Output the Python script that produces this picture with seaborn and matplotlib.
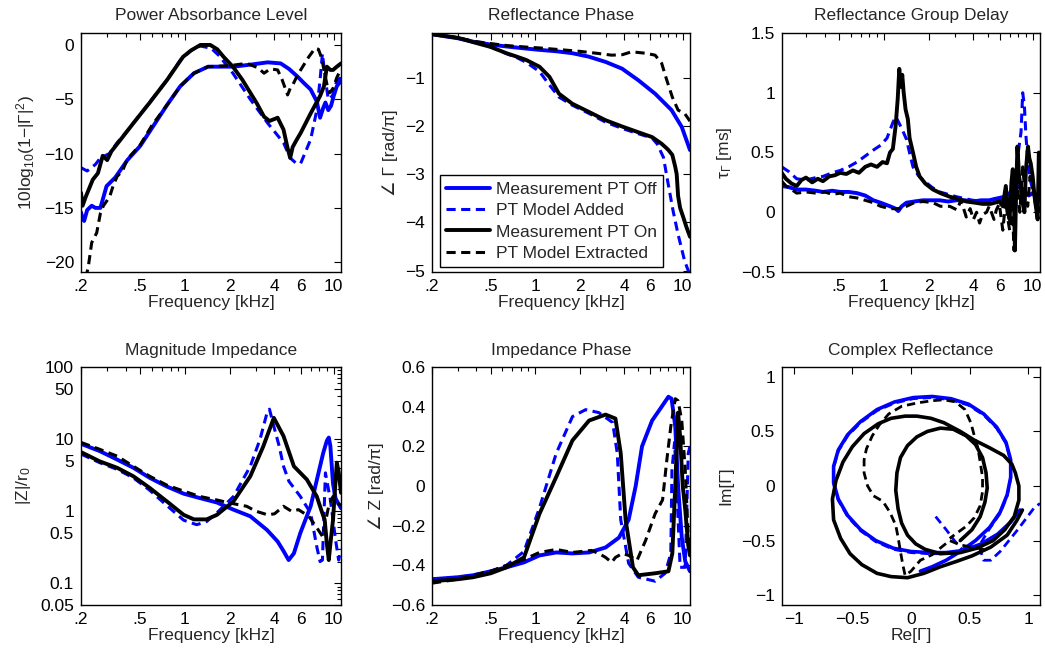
import matplotlib
matplotlib.use("Agg")
import matplotlib.pyplot as plt
import seaborn as sns
from matplotlib.ticker import FixedLocator, NullFormatter

# ---- Power absorbance level [dB] ----
pal_off_f = [0.2, 0.205, 0.21, 0.22, 0.236, 0.25, 0.27, 0.297, 0.34, 0.41, 0.5, 0.61, 0.76, 0.93, 1.15,
             1.43, 1.8, 2.12, 2.8, 3.6, 4.4, 5.0, 5.7, 6.3, 7.0, 7.7, 8.1, 8.5, 8.8, 9.2, 9.6, 10.0, 10.5, 11.2]
pal_off_y = [-15.4, -16.0, -16.2, -15.2, -14.8, -15.0, -15.0, -13.0, -12.2, -10.6, -9.3, -7.5, -5.5, -3.8, -2.6,
             -2.0, -2.0, -2.0, -1.8, -1.6, -1.7, -2.2, -2.9, -3.5, -4.1, -5.2, -6.7, -5.8, -5.3, -6.0, -5.6, -4.7, -3.8, -3.3]
pal_add_f = [0.2, 0.22, 0.25, 0.27, 0.29, 0.31, 0.35, 0.41, 0.5, 0.6, 0.76, 0.93, 1.1, 1.27, 1.5, 1.7, 2.1,
             2.75, 3.6, 4.6, 5.1, 5.6, 6.0, 7.0, 7.7, 8.1, 8.4, 8.8, 9.2, 9.8, 10.5, 11.2]
pal_add_y = [-11.3, -11.6, -11.0, -10.4, -10.2, -10.0, -9.0, -7.9, -6.4, -5.0, -3.2, -1.4, -0.5, -0.1, -0.3, -1.0, -2.6,
             -5.0, -7.2, -9.0, -10.4, -10.9, -10.9, -8.7, -6.0, -3.2, -0.8, -3.2, -5.0, -4.7, -3.3, -3.0]
pal_on_f = [0.2, 0.205, 0.215, 0.24, 0.26, 0.28, 0.3, 0.32, 0.37, 0.45, 0.58, 0.76, 0.97, 1.1, 1.27, 1.48, 1.65,
            1.82, 2.1, 2.43, 3.05, 3.4, 3.7, 4.2, 4.6, 4.9, 5.1, 5.3, 5.6, 6.0, 7.0, 8.1, 8.6, 9.0, 9.5, 9.9, 10.5, 11.2]
pal_on_y = [-13.6, -14.8, -14.0, -12.4, -11.8, -10.2, -10.6, -9.8, -8.7, -7.2, -5.3, -3.2, -1.1, -0.5, 0.0, 0.0, -0.4,
            -1.1, -2.0, -3.2, -5.4, -6.6, -7.0, -6.7, -7.8, -9.5, -10.4, -9.4, -8.8, -8.1, -6.3, -4.7, -3.8, -2.0, -2.3, -2.3, -2.0, -1.7]
pal_ext_f = [0.215, 0.224, 0.236, 0.255, 0.27, 0.283, 0.3, 0.313, 0.33, 0.35, 0.38, 0.41, 0.5, 0.6, 0.76, 0.93,
             1.15, 1.43, 2.0, 2.6, 3.1, 3.4, 3.75, 4.2, 4.5, 4.9, 5.1, 5.3, 5.7, 6.0, 6.8, 7.5, 7.9, 8.3, 8.6, 9.0,
             9.4, 9.9, 10.5, 11.2]
pal_ext_y = [-21.5, -20.4, -18.2, -17.3, -15.5, -14.8, -14.3, -13.9, -12.9, -12.1, -11.6, -10.5, -9.2, -7.4, -5.5, -3.8,
             -2.6, -2.0, -1.9, -1.7, -2.1, -2.6, -2.2, -2.3, -3.2, -4.6, -4.0, -3.7, -2.8, -2.3, -1.1, -0.3, -0.4, -1.2, -2.3, -3.6,
             -4.4, -4.0, -3.0, -2.2]

# ---- Reflectance phase [rad/pi] ----
rp_off_f = [0.2, 0.3, 0.38, 0.5, 0.64, 0.85, 1.07, 1.4, 1.79, 2.3, 3.0, 3.88, 5.0, 6.5, 8.4, 9.85, 11.2]
rp_off_y = [-0.095, -0.18, -0.25, -0.31, -0.35, -0.39, -0.42, -0.45, -0.49, -0.56, -0.67, -0.81, -1.05, -1.33, -1.67, -2.02, -2.5]
rp_add_f = [0.2, 0.3, 0.38, 0.5, 0.64, 0.75, 0.87, 1.07, 1.25, 1.45, 1.79, 2.32, 3.0, 3.88, 5.0, 6.2, 6.7, 7.4,
            7.9, 8.6, 9.3, 10.3, 11.2]
rp_add_y = [-0.095, -0.17, -0.25, -0.36, -0.5, -0.58, -0.68, -0.87, -1.15, -1.40, -1.57, -1.74, -1.92, -2.05, -2.16,
            -2.25, -2.37, -2.65, -3.14, -3.76, -4.25, -4.8, -5.1]
rp_on_f = [0.2, 0.3, 0.38, 0.5, 0.64, 0.75, 0.87, 1.07, 1.25, 1.45, 1.79, 2.32, 3.0, 3.88, 5.0, 6.2, 7.2, 7.7, 8.0,
           8.5, 8.9, 9.1, 9.3, 9.6, 10.1, 10.6, 11.2]
rp_on_y = [-0.095, -0.17, -0.26, -0.36, -0.49, -0.56, -0.63, -0.77, -0.98, -1.33, -1.54, -1.71, -1.88, -2.01, -2.13,
           -2.23, -2.37, -2.45, -2.5, -2.6, -2.85, -3.0, -3.45, -3.7, -3.9, -4.1, -4.3]
rp_ext_f = [0.2, 0.3, 0.38, 0.5, 0.64, 0.85, 1.07, 1.4, 2.0, 2.6, 3.3, 3.9, 4.5, 5.6, 6.5, 7.2, 7.8, 8.5, 9.3, 10.3, 11.2]
rp_ext_y = [-0.095, -0.17, -0.24, -0.29, -0.33, -0.36, -0.38, -0.41, -0.45, -0.49, -0.53, -0.52, -0.46, -0.49, -0.53,
            -0.7, -1.05, -1.4, -1.67, -1.74, -1.9]

# ---- Reflectance group delay [ms] ----
gd_off_f = [0.206, 0.23, 0.26, 0.3, 0.35, 0.39, 0.45, 0.51, 0.58, 0.66, 0.75, 0.85, 0.95, 1.1, 1.2, 1.25, 1.32, 1.42,
            1.6, 1.83, 2.1, 2.37, 2.7, 3.07, 3.5, 3.96, 4.5, 5.1, 5.5, 5.98, 6.5, 7.0, 7.6, 8.2, 8.8, 9.4, 10.0, 10.6, 11.2]
gd_off_y = [0.22, 0.21, 0.19, 0.19, 0.18, 0.17, 0.18, 0.17, 0.17, 0.16, 0.14, 0.10, 0.08, 0.05, 0.03, 0.01, 0.05, 0.08,
            0.09, 0.10, 0.10, 0.10, 0.09, 0.10, 0.10, 0.09, 0.10, 0.10, 0.11, 0.12, 0.13, 0.16, 0.20, 0.22, 0.18, 0.14, 0.16, 0.12, 0.10]
gd_add_f = [0.206, 0.23, 0.26, 0.3, 0.35, 0.39, 0.45, 0.51, 0.58, 0.66, 0.75, 0.85, 0.95, 1.05, 1.15, 1.2, 1.25, 1.32,
            1.42, 1.5, 1.57, 1.7, 1.83, 2.1, 2.37, 3.07, 3.96, 5.1, 6.0, 6.6, 7.2, 7.7, 8.0, 8.35, 8.57, 8.8, 9.0, 9.26,
            9.6, 10.0, 10.5, 11.2]
gd_add_y = [0.38, 0.34, 0.28, 0.27, 0.29, 0.30, 0.33, 0.35, 0.38, 0.42, 0.47, 0.52, 0.56, 0.62, 0.75, 0.80, 0.76, 0.70,
            0.61, 0.48, 0.38, 0.31, 0.27, 0.21, 0.17, 0.13, 0.10, 0.09, 0.10, 0.12, 0.17, 0.33, 0.50, 0.67, 1.0, 0.89, 0.65, 0.44,
            0.28, 0.19, 0.13, 0.08]
gd_on_f = [0.206, 0.22, 0.24, 0.26, 0.28, 0.3, 0.33, 0.36, 0.39, 0.43, 0.47, 0.51, 0.56, 0.62, 0.68, 0.75, 0.82, 0.9,
           0.98, 1.05, 1.1, 1.15, 1.2, 1.24, 1.27, 1.3, 1.33, 1.36, 1.4, 1.45, 1.49, 1.57, 1.65, 1.74, 1.9, 2.14, 2.4, 2.77,
           3.2, 3.58, 4.1, 4.6, 5.2, 5.97, 6.3, 6.6, 6.8, 7.0, 7.2, 7.35, 7.5, 7.6, 7.75, 7.9, 8.1, 8.3, 8.5, 8.8, 9.0,
           9.3, 9.5, 9.7, 10.0, 10.3, 10.5, 10.8, 11.0, 11.2]
gd_on_y = [0.33, 0.28, 0.24, 0.22, 0.27, 0.29, 0.25, 0.28, 0.26, 0.30, 0.31, 0.33, 0.32, 0.35, 0.33, 0.38, 0.40, 0.38,
           0.42, 0.41, 0.50, 0.53, 0.72, 0.95, 1.20, 1.05, 1.15, 1.0, 0.86, 0.78, 0.62, 0.50, 0.38, 0.30, 0.24, 0.19, 0.16, 0.13,
           0.11, 0.09, 0.08, 0.07, 0.07, 0.09, 0.05, 0.22, 0.02, -0.06, 0.25, 0.36, 0.05, -0.32, 0.20, 0.55, 0.30, 0.22, 0.10, 0.0,
           0.35, 0.55, 0.45, 0.41, 0.30, 0.13, 0.05, -0.06, 0.5, 0.35]
gd_ext_f = [0.206, 0.22, 0.24, 0.26, 0.3, 0.35, 0.4, 0.45, 0.51, 0.58, 0.66, 0.75, 0.85, 0.95, 1.1, 1.25, 1.42, 1.6,
            1.83, 2.14, 2.4, 2.77, 3.1, 3.3, 3.58, 3.8, 4.0, 4.2, 4.4, 4.6, 4.9, 5.1, 5.5, 5.7, 5.97, 6.3, 6.6, 6.8, 7.0,
            7.3, 7.5, 7.7, 7.9, 8.2, 8.57, 8.9, 9.26, 9.6, 10.0, 10.4, 10.8, 11.2]
gd_ext_y = [0.26, 0.22, 0.19, 0.16, 0.17, 0.16, 0.17, 0.15, 0.16, 0.13, 0.12, 0.10, 0.08, 0.05, 0.03, 0.03, 0.05, 0.08,
            0.09, 0.08, 0.05, 0.05, 0.02, 0.10, -0.04, 0.03, -0.06, 0.0, -0.09, -0.02, 0.0, 0.05, -0.06, 0.02, 0.07, -0.15,
            0.10, -0.05, -0.15, 0.05, -0.32, 0.10, 0.22, 0.0, 0.38, 0.15, 0.05, 0.30, 0.22, 0.08, -0.01, 0.05]

# ---- Magnitude impedance |Z|/r0 ----
zm_off_f = [0.2, 0.268, 0.35, 0.45, 0.58, 0.755, 0.98, 1.26, 1.64, 2.12, 2.75, 3.56, 4.2, 4.6, 4.98, 5.4, 5.97, 7.0,
            7.7, 8.5, 9.0, 9.27, 9.5, 9.9, 10.3, 11.2]
zm_off_y = [8.6, 6.8, 5.2, 4.0, 2.9, 2.2, 1.75, 1.52, 1.32, 1.05, 0.85, 0.55, 0.38, 0.28, 0.21, 0.26, 0.5, 1.17,
            2.7, 6.4, 9.5, 10.5, 8.0, 2.4, 1.5, 1.1]
zm_add_f = [0.2, 0.268, 0.35, 0.45, 0.58, 0.755, 0.98, 1.2, 1.4, 1.64, 2.12, 2.75, 3.2, 3.56, 3.7, 3.96, 4.3, 4.6,
            5.0, 5.97, 7.0, 7.7, 8.1, 8.4, 8.8, 9.5, 10.3, 10.8, 11.2]
zm_add_y = [6.2, 4.7, 3.8, 2.9, 1.95, 1.2, 0.75, 0.65, 0.72, 0.95, 1.6, 4.2, 10.0, 23.0, 26.0, 15.0, 8.0, 4.2,
            2.6, 1.6, 0.94, 0.32, 0.2, 0.21, 3.4, 1.44, 0.4, 0.21, 0.3]
zm_on_f = [0.2, 0.268, 0.35, 0.45, 0.58, 0.755, 0.98, 1.15, 1.4, 1.64, 2.12, 2.75, 3.36, 3.96, 4.6, 5.4, 6.6, 7.7,
           8.3, 8.7, 9.0, 9.27, 9.5, 9.9, 10.2, 10.5, 10.8, 11.2]
zm_on_y = [6.6, 4.9, 4.0, 3.05, 2.1, 1.37, 0.89, 0.77, 0.77, 0.89, 1.37, 3.05, 7.9, 19.7, 11.0, 4.2, 2.75, 1.6,
           1.0, 0.76, 0.35, 0.21, 0.35, 0.76, 2.0, 4.7, 3.5, 1.8]
zm_ext_f = [0.2, 0.268, 0.35, 0.45, 0.58, 0.755, 0.98, 1.26, 1.64, 2.0, 2.6, 3.0, 3.6, 4.0, 4.6, 5.2, 5.8, 6.8,
            7.7, 8.4, 8.8, 9.25, 9.9, 10.5, 11.2]
zm_ext_y = [9.0, 7.2, 5.8, 4.2, 3.05, 2.3, 1.9, 1.6, 1.43, 1.3, 1.17, 1.0, 0.89, 0.92, 1.17, 1.0, 1.05, 0.85,
            0.59, 0.45, 0.7, 1.17, 1.6, 1.3, 1.2]

# ---- Impedance phase [rad/pi] ----
zp_off_f = [0.2, 0.3, 0.38, 0.5, 0.64, 0.84, 1.07, 1.39, 1.79, 2.32, 3.0, 3.7, 4.3, 4.8, 5.3, 6.2, 7.2, 8.0, 8.4,
            8.9, 9.3, 9.85, 10.4, 11.2]
zp_off_y = [-0.47, -0.46, -0.45, -0.43, -0.41, -0.385, -0.35, -0.335, -0.34, -0.335, -0.31, -0.26, -0.17, 0.0, 0.2,
            0.33, 0.40, 0.45, 0.44, 0.30, 0.0, -0.26, -0.38, -0.43]
zp_add_f = [0.2, 0.3, 0.38, 0.5, 0.64, 0.84, 1.07, 1.39, 1.79, 2.2, 2.7, 3.35, 3.6, 3.8, 4.3, 5.0, 6.5, 7.6, 8.3,
            8.45, 8.8, 9.1, 9.6, 10.4, 10.9, 11.2]
zp_add_y = [-0.47, -0.46, -0.45, -0.43, -0.40, -0.33, -0.11, 0.165, 0.35, 0.385, 0.37, 0.32, 0.165, -0.17, -0.39,
            -0.46, -0.48, -0.44, -0.34, 0.08, 0.22, 0.0, -0.41, -0.41, 0.165, 0.2]
zp_on_f = [0.2, 0.3, 0.38, 0.5, 0.64, 0.84, 1.07, 1.39, 1.79, 2.32, 3.0, 3.5, 3.8, 4.1, 4.6, 5.0, 6.5, 8.0, 8.5,
           8.9, 9.3, 9.6, 10.0, 10.4, 10.9, 11.2]
zp_on_y = [-0.48, -0.47, -0.46, -0.44, -0.41, -0.36, -0.14, 0.046, 0.23, 0.33, 0.36, 0.34, 0.165, -0.17, -0.41,
           -0.45, -0.44, -0.43, -0.34, 0.0, 0.37, 0.25, 0.0, -0.12, -0.3, -0.35]
zp_ext_f = [0.2, 0.3, 0.38, 0.5, 0.64, 0.84, 1.07, 1.39, 1.79, 2.4, 2.7, 3.0, 3.3, 3.5, 3.9, 4.3, 4.9, 5.6, 6.5,
            7.3, 7.8, 8.3, 8.9, 9.3, 9.85, 10.4, 10.9, 11.2]
zp_ext_y = [-0.49, -0.47, -0.45, -0.43, -0.40, -0.37, -0.335, -0.32, -0.335, -0.325, -0.34, -0.36, -0.385, -0.36,
            -0.34, -0.35, -0.375, -0.275, -0.14, -0.07, 0.13, 0.30, 0.44, 0.43, 0.33, 0.08, -0.26, -0.3]

# ---- Complex reflectance (Re, Im) ----
cr_off_re = [0.93, 0.85, 0.74, 0.60, 0.45, 0.30, 0.15, 0.0, -0.15, -0.30, -0.43, -0.54, -0.62, -0.66, -0.66, -0.62,
             -0.54, -0.43, -0.29, -0.14, 0.02, 0.18, 0.34, 0.49, 0.62, 0.73, 0.81, 0.85, 0.85, 0.82, 0.76, 0.67,
             0.55, 0.42, 0.30, 0.18, 0.08]
cr_off_im = [-0.22, -0.33, -0.44, -0.53, -0.59, -0.61, -0.61, -0.60, -0.57, -0.50, -0.40, -0.27, -0.12, 0.03, 0.18,
             0.33, 0.47, 0.59, 0.70, 0.77, 0.81, 0.82, 0.80, 0.75, 0.66, 0.54, 0.40, 0.24, 0.08, -0.08, -0.24, -0.38,
             -0.50, -0.60, -0.68, -0.74, -0.78]
cr_add_re = [0.21, 0.30, 0.37, 0.45, 0.30, 0.15, 0.0, -0.15, -0.30, -0.43, -0.54, -0.62, -0.66, -0.66, -0.62,
             -0.54, -0.43, -0.29, -0.14, 0.02, 0.18, 0.34, 0.49, 0.62, 0.73, 0.81, 0.85, 0.85, 0.82, 0.76, 0.67,
             0.58, 0.62, 0.68, 0.76, 0.91, 1.05, 1.10]
cr_add_im = [-0.28, -0.40, -0.50, -0.60, -0.62, -0.62, -0.61, -0.58, -0.51, -0.41, -0.28, -0.13, 0.02, 0.17, 0.32,
             0.46, 0.58, 0.69, 0.76, 0.80, 0.81, 0.79, 0.74, 0.65, 0.53, 0.39, 0.23, 0.07, -0.09, -0.25, -0.39,
             -0.55, -0.68, -0.68, -0.60, -0.40, -0.20, -0.16]
cr_on_re = [0.95, 0.90, 0.82, 0.68, 0.52, 0.39, 0.25, 0.11, -0.03, -0.17, -0.29, -0.42, -0.52, -0.60, -0.66, -0.67,
            -0.64, -0.58, -0.50, -0.40, -0.28, -0.17, -0.05, 0.05, 0.17, 0.28, 0.42, 0.54, 0.67, 0.79, 0.86, 0.89,
            0.92, 0.92, 0.88, 0.80, 0.70, 0.56, 0.42, 0.25, 0.12, 0.04, -0.03, -0.08, -0.11, -0.13, -0.12, -0.09,
            -0.03, 0.05, 0.14, 0.25, 0.36, 0.47, 0.55, 0.61, 0.64, 0.65, 0.63, 0.59, 0.52, 0.42]
cr_on_im = [-0.22, -0.32, -0.45, -0.56, -0.64, -0.69, -0.74, -0.80, -0.84, -0.83, -0.80, -0.72, -0.62, -0.48, -0.31,
            -0.12, 0.05, 0.22, 0.36, 0.48, 0.57, 0.62, 0.64, 0.64, 0.62, 0.58, 0.50, 0.42, 0.35, 0.28, 0.20, 0.12,
            0.0, -0.13, -0.28, -0.40, -0.50, -0.57, -0.61, -0.62, -0.58, -0.53, -0.45, -0.34, -0.21, -0.04, 0.12, 0.26,
            0.37, 0.45, 0.50, 0.53, 0.52, 0.46, 0.38, 0.26, 0.12, -0.02, -0.15, -0.28, -0.40, -0.50]
cr_ext_re = [0.62, 0.52, 0.42, 0.33, 0.26, 0.18, 0.08, 0.0, -0.05, -0.07, -0.09, -0.11, -0.13, -0.18, -0.24, -0.32,
             -0.37, -0.40, -0.40, -0.38, -0.33, -0.27, -0.19, -0.08, 0.05, 0.17, 0.28, 0.38, 0.46, 0.51, 0.54, 0.57,
             0.59, 0.61, 0.61, 0.59, 0.54, 0.47, 0.38, 0.33]
cr_ext_im = [-0.58, -0.56, -0.54, -0.50, -0.56, -0.63, -0.68, -0.78, -0.82, -0.72, -0.60, -0.47, -0.36, -0.24, -0.14,
             -0.09, 0.0, 0.12, 0.24, 0.34, 0.46, 0.56, 0.66, 0.73, 0.76, 0.78, 0.79, 0.77, 0.70, 0.58, 0.46, 0.35,
             0.22, 0.08, -0.05, -0.18, -0.29, -0.37, -0.44, -0.48]

legend_labels = ["Measurement PT Off", "PT Model Added", "Measurement PT On", "PT Model Extracted"]

sns.set_theme(style="white")
plt.rcParams["font.family"] = ["Liberation Sans", "DejaVu Sans"]
plt.rcParams["mathtext.fontset"] = "custom"
plt.rcParams["mathtext.rm"] = "Liberation Sans"
plt.rcParams["mathtext.it"] = "Liberation Sans:italic"
plt.rcParams["mathtext.default"] = "regular"
plt.rcParams["font.size"] = 12.5

BLUE = "#0000ff"
BLACK = "#000000"
FS = 12.5


def draw(ax, x, y, color, dashed, lw):
    sns.lineplot(x=x, y=y, ax=ax, color=color, lw=lw, sort=False, estimator=None, legend=False)
    line = ax.lines[-1]
    line.set_solid_joinstyle("round")
    if dashed:
        line.set_dashes((3.0, 1.8))
    return line


def style(ax, title, xlabel, ylabel):
    ax.set_facecolor("white")
    for s in ax.spines.values():
        s.set_visible(True)
        s.set_color("black")
        s.set_linewidth(1.0)
    ax.tick_params(which="both", direction="in", top=True, right=True, colors="black",
                   labelsize=FS, pad=5)
    ax.tick_params(which="major", length=5, width=0.8)
    ax.tick_params(which="minor", length=3, width=0.8)
    ax.set_title(title, fontsize=FS, pad=9)
    ax.set_xlabel(xlabel, fontsize=FS, labelpad=1)
    ax.set_ylabel(ylabel, fontsize=FS, labelpad=5)
    ax.grid(False)


def freq_axis(ax, xmin=0.2):
    ax.set_xscale("log")
    ax.set_xlim(xmin, 11.2)
    ax.xaxis.set_major_locator(FixedLocator([0.2, 0.5, 1, 2, 4, 6, 10]))
    ax.set_xticklabels([".2", ".5", "1", "2", "4", "6", "10"])
    ax.xaxis.set_minor_locator(FixedLocator([0.3, 0.4, 0.6, 0.7, 0.8, 0.9, 3, 5, 7, 8, 9]))
    ax.xaxis.set_minor_formatter(NullFormatter())


fig = plt.figure(figsize=(10.45, 6.5), dpi=100)
W, H = 1045.0, 650.0
lefts = [81, 432, 782]
widths = [260, 258, 258]
rows = [(33, 272), (367, 605)]
axes = []
for (top, bot) in rows:
    for l, w in zip(lefts, widths):
        axes.append(fig.add_axes([l / W, (H - bot) / H, w / W, (bot - top) / H]))
ax1, ax2, ax3, ax4, ax5, ax6 = axes

THICK, THIN = 2.8, 2.2

# Power absorbance level
draw(ax1, pal_off_f, pal_off_y, BLUE, False, THICK)
draw(ax1, pal_add_f, pal_add_y, BLUE, True, THIN)
draw(ax1, pal_on_f, pal_on_y, BLACK, False, THICK)
draw(ax1, pal_ext_f, pal_ext_y, BLACK, True, THIN)
freq_axis(ax1)
ax1.set_ylim(-20.9, 1.1)
ax1.set_yticks([-20, -15, -10, -5, 0])
style(ax1, "Power Absorbance Level", "Frequency [kHz]", "10log$_{10}$(1\u2212|\u0393|$^2$)")

# Reflectance phase
h = [draw(ax2, rp_off_f, rp_off_y, BLUE, False, THICK),
     draw(ax2, rp_add_f, rp_add_y, BLUE, True, THIN),
     draw(ax2, rp_on_f, rp_on_y, BLACK, False, THICK),
     draw(ax2, rp_ext_f, rp_ext_y, BLACK, True, THIN)]
freq_axis(ax2)
ax2.set_ylim(-5.03, -0.07)
ax2.set_yticks([-5, -4, -3, -2, -1])
style(ax2, "Reflectance Phase", "Frequency [kHz]", "\u2220 \u0393 [rad/\u03c0]")
leg = ax2.legend(h, legend_labels, loc="lower left", bbox_to_anchor=(0.031, 0.021),
                 borderaxespad=0, fontsize=FS, frameon=True, fancybox=False,
                 edgecolor="black", framealpha=1, handlelength=2.55, handletextpad=0.3,
                 labelspacing=0.36, borderpad=0.35)
leg.get_frame().set_linewidth(1.0)

# Reflectance group delay
draw(ax3, gd_off_f, gd_off_y, BLUE, False, THICK)
draw(ax3, gd_add_f, gd_add_y, BLUE, True, THIN)
draw(ax3, gd_on_f, gd_on_y, BLACK, False, THICK)
draw(ax3, gd_ext_f, gd_ext_y, BLACK, True, THIN)
freq_axis(ax3, xmin=0.207)
ax3.set_ylim(-0.5, 1.5)
ax3.set_yticks([-0.5, 0, 0.5, 1, 1.5])
ax3.set_yticklabels(["\u22120.5", "0", "0.5", "1", "1.5"])
style(ax3, "Reflectance Group Delay", "Frequency [kHz]", "\u03c4$_{\u0393}$ [ms]")

# Magnitude impedance
draw(ax4, zm_off_f, zm_off_y, BLUE, False, THICK)
draw(ax4, zm_add_f, zm_add_y, BLUE, True, THIN)
draw(ax4, zm_on_f, zm_on_y, BLACK, False, THICK)
draw(ax4, zm_ext_f, zm_ext_y, BLACK, True, THIN)
freq_axis(ax4)
ax4.set_yscale("log")
ax4.set_ylim(0.05, 100)
ax4.yaxis.set_major_locator(FixedLocator([0.05, 0.1, 0.5, 1, 5, 10, 50, 100]))
ax4.set_yticklabels(["0.05", "0.1", "0.5", "1", "5", "10", "50", "100"])
ax4.yaxis.set_minor_locator(FixedLocator([0.06, 0.07, 0.08, 0.09, 0.2, 0.3, 0.4, 0.6, 0.7, 0.8, 0.9,
                                          2, 3, 4, 6, 7, 8, 9, 20, 30, 40, 60, 70, 80, 90]))
ax4.yaxis.set_minor_formatter(NullFormatter())
style(ax4, "Magnitude Impedance", "Frequency [kHz]", "|Z|/r$_0$")

# Impedance phase
draw(ax5, zp_off_f, zp_off_y, BLUE, False, THICK)
draw(ax5, zp_add_f, zp_add_y, BLUE, True, THIN)
draw(ax5, zp_on_f, zp_on_y, BLACK, False, THICK)
draw(ax5, zp_ext_f, zp_ext_y, BLACK, True, THIN)
freq_axis(ax5)
ax5.set_ylim(-0.6, 0.6)
ax5.set_yticks([-0.6, -0.4, -0.2, 0, 0.2, 0.4, 0.6])
ax5.set_yticklabels(["\u22120.6", "\u22120.4", "\u22120.2", "0", "0.2", "0.4", "0.6"])
style(ax5, "Impedance Phase", "Frequency [kHz]", "\u2220 Z [rad/\u03c0]")

# Complex reflectance
draw(ax6, cr_off_re, cr_off_im, BLUE, False, 2.6)
draw(ax6, cr_add_re, cr_add_im, BLUE, True, 2.0)
draw(ax6, cr_on_re, cr_on_im, BLACK, False, 2.6)
draw(ax6, cr_ext_re, cr_ext_im, BLACK, True, 2.0)
ax6.set_xlim(-1.1, 1.1)
ax6.set_ylim(-1.09, 1.09)
ax6.set_xticks([-1, -0.5, 0, 0.5, 1])
ax6.set_xticklabels(["\u22121", "\u22120.5", "0", "0.5", "1"])
ax6.set_yticks([-1, -0.5, 0, 0.5, 1])
ax6.set_yticklabels(["\u22121", "\u22120.5", "0", "0.5", "1"])
style(ax6, "Complex Reflectance", "Re[\u0393]", "Im[\u0393]")

fig.savefig("out.png", dpi=100, facecolor="white")
